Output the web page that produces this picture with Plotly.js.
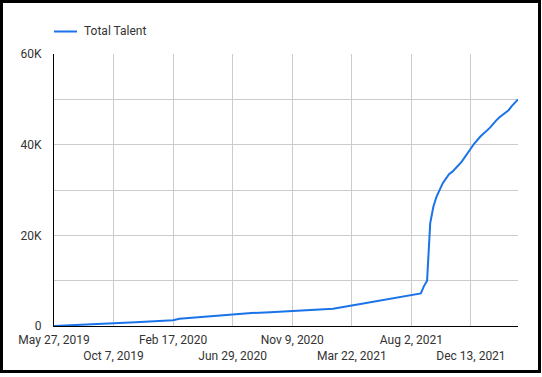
<!DOCTYPE html>
<html>
<head>
<meta charset="utf-8">
<script src="https://cdn.plot.ly/plotly-3.0.1.min.js"></script>
<style>
  html, body { margin: 0; padding: 0; background: #fff; }
  #wrap { position: relative; width: 542px; height: 377px; }
  #chart { position: absolute; left: 0; top: 0; width: 542px; height: 377px; }
  #frame { position: absolute; left: 0; top: 0; width: 541px; height: 373px; border: 3px solid #000; box-sizing: border-box; pointer-events: none; }
</style>
</head>
<body>
<div id="wrap">
  <div id="chart"></div>
  <div id="frame"></div>
</div>
<script>
const seriesName = "Total Talent";

const dates = [
  "2019-05-27","2019-07-08","2019-08-19","2019-10-07","2019-11-25","2020-01-06",
  "2020-02-17","2020-03-02","2020-04-20","2020-06-01","2020-06-29","2020-08-10",
  "2020-09-21","2020-11-09","2020-12-21","2021-02-08","2021-03-22","2021-04-26",
  "2021-05-24","2021-06-28","2021-08-02","2021-08-23","2021-08-30","2021-09-06",
  "2021-09-13","2021-09-20","2021-09-27","2021-10-11","2021-10-25","2021-11-01",
  "2021-11-22","2021-12-06","2021-12-13","2021-12-20","2022-01-03","2022-01-24",
  "2022-02-07","2022-02-14","2022-03-07","2022-03-14","2022-03-28"
];

const totalTalent = [
  0, 150, 350, 600, 850, 1000,
  1250, 1600, 2000, 2300, 2600, 2850,
  3050, 3300, 3500, 3800, 4500, 5100,
  5500, 6100, 6800, 7200, 8800, 10000,
  22700, 26300, 28500, 31500, 33500, 34000,
  36200, 38200, 39100, 40200, 41800, 43700,
  45300, 46000, 47600, 48500, 50000
];

const xTickVals = ["2019-05-27","2019-10-07","2020-02-17","2020-06-29","2020-11-09","2021-03-22","2021-08-02","2021-12-13"];
const xTickText = ["May 27, 2019","Oct 7, 2019","Feb 17, 2020","Jun 29, 2020","Nov 9, 2020","Mar 22, 2021","Aug 2, 2021","Dec 13, 2021"];

const yTickVals = [0, 10000, 20000, 30000, 40000, 50000, 60000];
const yTickText = ["0", "", "20K", "", "40K", "", "60K"];

const lineColor = "#1a73e8";
const fontFam = "Roboto, Arial, sans-serif";

// stagger x tick labels onto two rows
const staggered = xTickText.map((t, i) => (i % 2 === 1 ? "<br>" + t : t));

const trace = {
  x: dates,
  y: totalTalent,
  type: "scatter",
  mode: "lines",
  name: seriesName,
  line: { color: lineColor, width: 2 },
  hoverinfo: "x+y"
};

const layout = {
  width: 542,
  height: 377,
  margin: { l: 54, r: 24, t: 54, b: 51, pad: 0 },
  paper_bgcolor: "#fff",
  plot_bgcolor: "#fff",
  showlegend: false,
  font: { family: fontFam, size: 12, color: "#333" },
  xaxis: {
    type: "date",
    range: ["2019-05-27", "2022-03-28"],
    tickmode: "array",
    tickvals: xTickVals,
    ticktext: staggered,
    tickangle: 0,
    ticklabelstandoff: 3,
    showgrid: true,
    gridcolor: "#cccccc",
    gridwidth: 1,
    showline: true,
    linecolor: "#000",
    linewidth: 1,
    ticks: "",
    zeroline: false,
    tickfont: { family: fontFam, size: 12, color: "#333" },
    fixedrange: true
  },
  yaxis: {
    range: [0, 60000],
    tickmode: "array",
    tickvals: yTickVals,
    ticktext: yTickText,
    showgrid: true,
    gridcolor: "#cccccc",
    gridwidth: 1,
    showline: true,
    linecolor: "#000",
    linewidth: 1,
    ticks: "",
    zeroline: false,
    ticklabelstandoff: 9,
    tickfont: { family: fontFam, size: 12, color: "#333" },
    fixedrange: true
  },
  shapes: [
    {
      type: "line", xref: "paper", yref: "paper",
      x0: 0, x1: 23 / 464, y0: (326 - 31.5) / 272, y1: (326 - 31.5) / 272,
      line: { color: lineColor, width: 2 }
    }
  ],
  annotations: [
    {
      xref: "paper", yref: "paper",
      x: 28 / 464, y: (326 - 31.5) / 272,
      xanchor: "left", yanchor: "middle",
      text: seriesName, showarrow: false,
      font: { family: fontFam, size: 12, color: "#333" }
    }
  ]
};

Plotly.newPlot("chart", [trace], layout, { displayModeBar: false, staticPlot: true });
</script>
</body>
</html>
